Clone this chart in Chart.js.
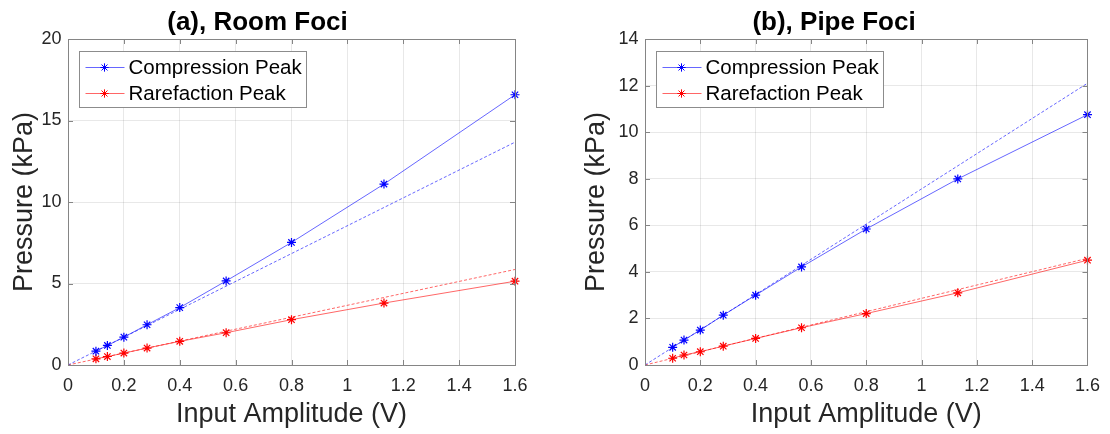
<!DOCTYPE html>
<html>
<head>
<meta charset="utf-8">
<title>Pressure vs Input Amplitude</title>
<script src="https://cdn.jsdelivr.net/npm/chart.js@4.4.0/dist/chart.umd.min.js"></script>
<style>
    html, body { margin: 0; padding: 0; background: #fff; }
    #wrap { position: relative; width: 1110px; height: 434px; overflow: hidden; }
    #wrap canvas { position: absolute; top: 0; }
</style>
</head>
<body>
<div id="wrap">
    <canvas id="room-chart" width="555" height="434" style="left:0"></canvas>
    <canvas id="pipe-chart" width="555" height="434" style="left:555px"></canvas>
</div>
<script>
// Input amplitudes (V) for every measured point
const amplitudes = [0.1, 0.141, 0.2, 0.283, 0.4, 0.566, 0.8, 1.131, 1.6];

// (a) Room foci, kPa
const roomCompression = [0.85, 1.2, 1.71, 2.47, 3.52, 5.16, 7.52, 11.1, 16.58];
const roomRarefaction = [0.38, 0.52, 0.73, 1.04, 1.45, 1.98, 2.78, 3.8, 5.14];

// (b) Pipe foci, kPa
const pipeCompression = [0.76, 1.07, 1.5, 2.14, 3.0, 4.21, 5.84, 7.99, 10.75];
const pipeRarefaction = [0.29, 0.43, 0.57, 0.81, 1.14, 1.6, 2.21, 3.1, 4.5];

// dashed linear fits, drawn from 0 to 1.6 V
const fitX = [0, 1.6];
const roomCompressionFit = [0, 13.67];
const roomRarefactionFit = [0, 5.86];
const pipeCompressionFit = [0, 12.1];
const pipeRarefactionFit = [0, 4.58];

// tick labels
const xTicks = [0, 0.2, 0.4, 0.6, 0.8, 1, 1.2, 1.4, 1.6];
const roomYTicks = [0, 5, 10, 15, 20];
const pipeYTicks = [0, 2, 4, 6, 8, 10, 12, 14];

const FONT = "'Liberation Sans', Arial, Helvetica, sans-serif";
const AXIS_COLOR = '#858585';
const TEXT_COLOR = '#262626';
const BLUE = '#0000ff';
const RED = '#ff0000';
const BLUE_LINE = 'rgba(0, 0, 255, 0.6)';
const RED_LINE = 'rgba(255, 0, 0, 0.6)';

function toPoints(xs, ys) {
    return xs.map((x, i) => ({ x: x, y: ys[i] }));
}

/**
 * Box, inward ticks and boxed legend, drawn the way MATLAB does it
 */
const matlabAxes = {
    id: 'matlabAxes',
    afterDatasetsDraw(chart) {
        const ctx = chart.ctx;
        const a = chart.chartArea;
        const xs = chart.scales.x;
        const ys = chart.scales.y;
        ctx.save();
        ctx.strokeStyle = AXIS_COLOR;
        ctx.lineWidth = 1;
        ctx.beginPath();
        xs.ticks.forEach(t => {
            const px = Math.round(xs.getPixelForValue(t.value)) + 0.5;
            ctx.moveTo(px, a.bottom); ctx.lineTo(px, a.bottom - 5);
            ctx.moveTo(px, a.top); ctx.lineTo(px, a.top + 5);
        });
        ys.ticks.forEach(t => {
            const py = Math.round(ys.getPixelForValue(t.value)) + 0.5;
            ctx.moveTo(a.left, py); ctx.lineTo(a.left + 5, py);
            ctx.moveTo(a.right, py); ctx.lineTo(a.right - 5, py);
        });
        ctx.stroke();
        ctx.strokeRect(Math.round(a.left) + 0.5, Math.round(a.top) + 0.5,
            Math.round(a.right - a.left), Math.round(a.bottom - a.top));

        // legend
        const items = chart.data.datasets.filter(d => d.inLegend);
        const bx = Math.round(a.left + 11) + 0.5;
        const by = Math.round(a.top + 12) + 0.5;
        ctx.fillStyle = '#fff';
        ctx.fillRect(bx, by, 227, 56);
        ctx.strokeStyle = '#8c8c8c';
        ctx.strokeRect(bx, by, 227, 56);
        ctx.font = '20.5px ' + FONT;
        ctx.textBaseline = 'middle';
        ctx.textAlign = 'left';
        items.forEach((d, i) => {
            const y = by + 16 + i * 26;
            ctx.strokeStyle = d.borderColor;
            ctx.lineWidth = 1;
            ctx.beginPath();
            ctx.moveTo(bx + 6, y);
            ctx.lineTo(bx + 45, y);
            ctx.stroke();
            Chart.helpers.drawPoint(ctx, {
                pointStyle: 'star', radius: 4, borderWidth: 1, rotation: 0
            }, bx + 25, y);
            ctx.strokeStyle = d.pointBorderColor;
            ctx.stroke();
            ctx.fillStyle = '#000';
            ctx.fillText(d.label, bx + 49, y + 1);
        });
        ctx.restore();
    }
};

function makeChart(canvasId, cfg) {
    const ctx = document.getElementById(canvasId);
    return new Chart(ctx.getContext('2d'), {
        type: 'line',
        data: {
            datasets: [
                {
                    label: 'Compression Peak',
                    inLegend: true,
                    data: toPoints(amplitudes, cfg.compression),
                    borderColor: BLUE_LINE,
                    borderWidth: 1,
                    pointStyle: 'star',
                    pointRadius: 4.5,
                    pointBorderColor: BLUE,
                    pointBorderWidth: 1.2,
                    clip: false,
                },
                {
                    label: 'Rarefaction Peak',
                    inLegend: true,
                    data: toPoints(amplitudes, cfg.rarefaction),
                    borderColor: RED_LINE,
                    borderWidth: 1,
                    pointStyle: 'star',
                    pointRadius: 4.5,
                    pointBorderColor: RED,
                    pointBorderWidth: 1.2,
                    clip: false,
                },
                {
                    label: 'Compression fit',
                    data: toPoints(fitX, cfg.compressionFit),
                    borderColor: BLUE_LINE,
                    borderWidth: 1,
                    borderDash: [3, 2],
                    pointRadius: 0,
                },
                {
                    label: 'Rarefaction fit',
                    data: toPoints(fitX, cfg.rarefactionFit),
                    borderColor: RED_LINE,
                    borderWidth: 1,
                    borderDash: [3, 2],
                    pointRadius: 0,
                }
            ]
        },
        options: {
            responsive: false,
            animation: false,
            devicePixelRatio: 1,
            layout: { padding: cfg.padding },
            plugins: {
                legend: { display: false },
                tooltip: { enabled: false },
                title: {
                    display: true,
                    text: cfg.title,
                    color: '#000',
                    font: { family: FONT, size: 26, weight: 'bold' },
                    padding: { top: 7.4, bottom: 0.4 },
                }
            },
            scales: {
                x: {
                    type: 'linear',
                    min: 0,
                    max: 1.6,
                    afterBuildTicks: scale => { scale.ticks = xTicks.map(v => ({ value: v })); },
                    afterFit: scale => { scale.height = 69; },
                    grid: { color: 'rgba(0, 0, 0, 0.09)', drawTicks: false },
                    border: { display: false },
                    ticks: {
                        color: TEXT_COLOR,
                        padding: 10,
                        maxRotation: 0,
                        font: { family: FONT, size: 18 },
                        callback: v => String(v),
                    },
                    title: {
                        display: true,
                        text: 'Input Amplitude (V)',
                        color: TEXT_COLOR,
                        font: { family: FONT, size: 27 },
                        padding: { top: 0, bottom: 2.8 },
                    }
                },
                y: {
                    type: 'linear',
                    min: 0,
                    max: cfg.yMax,
                    afterBuildTicks: scale => { scale.ticks = cfg.yTicks.map(v => ({ value: v })); },
                    afterFit: scale => { scale.width = cfg.yWidth; },
                    grid: { color: 'rgba(0, 0, 0, 0.09)', drawTicks: false },
                    border: { display: false },
                    ticks: {
                        color: TEXT_COLOR,
                        padding: 6.5,
                        font: { family: FONT, size: 18 },
                        callback: v => String(v),
                    },
                    title: {
                        display: true,
                        text: 'Pressure (kPa)',
                        color: TEXT_COLOR,
                        font: { family: FONT, size: 27 },
                        padding: { top: cfg.yTitlePad, bottom: 0 },
                    }
                }
            }
        },
        plugins: [matlabAxes]
    });
}

makeChart('room-chart', {
    title: '(a), Room Foci',
    compression: roomCompression,
    rarefaction: roomRarefaction,
    compressionFit: roomCompressionFit,
    rarefactionFit: roomRarefactionFit,
    yMax: 20,
    yTicks: roomYTicks,
    yWidth: 68,
    yTitlePad: 8.8,
    padding: { left: 0, right: 40, top: 0, bottom: 0 },
});

makeChart('pipe-chart', {
    title: '(b), Pipe Foci',
    compression: pipeCompression,
    rarefaction: pipeRarefaction,
    compressionFit: pipeCompressionFit,
    rarefactionFit: pipeRarefactionFit,
    yMax: 14,
    yTicks: pipeYTicks,
    yWidth: 69,
    yTitlePad: 4.5,
    padding: { left: 21, right: 18, top: 0, bottom: 0 },
});
</script>
</body>
</html>
